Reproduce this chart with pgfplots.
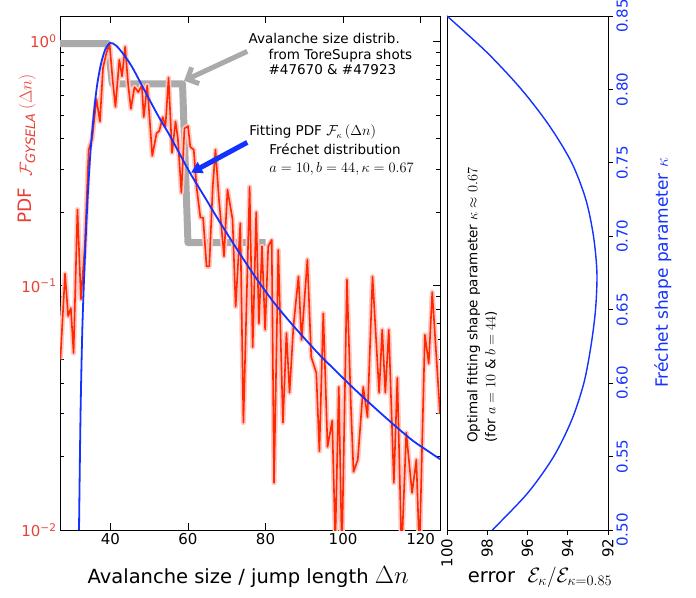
\documentclass[border=0pt]{standalone}
\usepackage{fontspec}
\setmainfont{DejaVu Sans}
\usepackage{pgfplots}
\usepackage{pgfplotstable}
\pgfplotsset{compat=1.18}
\usetikzlibrary{arrows.meta}

\definecolor{datared}{RGB}{255,40,0}
\definecolor{glowred}{RGB}{255,200,195}
\definecolor{labred}{RGB}{232,65,55}
\definecolor{fitblue}{RGB}{20,50,255}
\definecolor{stepgray}{RGB}{170,170,170}

% GYSELA avalanche size PDF (noisy)
\pgfplotstableread{
x y
27.1 0.050
28.3 0.112
29.1 0.075
29.8 0.081
30.5 0.053
31.5 0.205
32.4 0.088
33.4 0.145
34.4 0.36
35.3 0.40
36.4 0.58
37.3 0.47
38.1 0.78
39.0 0.90
39.8 0.97
40.6 0.69
41.3 0.54
42.3 0.84
43.0 0.72
43.8 0.95
44.6 0.66
45.3 0.53
46.2 0.65
47.2 0.62
48.1 0.66
48.6 0.49
49.5 0.66
50.8 0.34
51.9 0.42
52.6 0.43
53.5 0.49
54.2 0.45
55.0 0.71
55.9 0.35
56.8 0.47
57.4 0.40
58.3 0.24
59.1 0.44
60.0 0.45
60.6 0.37
61.5 0.36
62.2 0.255
63.2 0.19
63.9 0.19
64.8 0.12
65.5 0.12
66.4 0.255
67.1 0.36
68.0 0.225
69.3 0.132
70.2 0.247
71.5 0.187
72.3 0.082
73.5 0.18
74.3 0.0275
75.9 0.254
76.7 0.056
77.6 0.20
78.3 0.070
79.1 0.145
79.9 0.066
80.7 0.145
81.6 0.154
82.2 0.0156
83.3 0.14
84.5 0.0275
85.4 0.064
86.2 0.0365
87.2 0.068
88.5 0.109
89.3 0.060
90.8 0.128
91.8 0.051
93.1 0.044
93.9 0.021
94.9 0.077
96.0 0.0219
97.2 0.028
98.0 0.009
98.9 0.0385
99.7 0.008
101.0 0.106
102.0 0.033
102.7 0.0173
103.8 0.0194
105.2 0.0385
106.3 0.029
107.6 0.109
109.3 0.0365
110.1 0.066
110.9 0.0365
111.8 0.066
113.1 0.0156
114.0 0.042
115.1 0.008
116.3 0.025
117.8 0.0142
118.9 0.0194
119.7 0.008
121.1 0.063
122.1 0.048
123.0 0.094
124.5 0.040
125.0 0.030
}\gysela

% Frechet fit
\pgfplotstableread{
x y
31.9 0.01
32.3 0.03
32.8 0.07
33.5 0.14
34.2 0.24
34.9 0.36
35.7 0.50
36.5 0.65
37.5 0.80
38.6 0.92
39.9 0.985
41.5 0.96
43.5 0.88
45.5 0.79
47.5 0.69
50.0 0.58
52.5 0.49
55.0 0.42
57.5 0.355
60.5 0.29
64.0 0.235
67.5 0.19
71.0 0.155
74.5 0.127
78.0 0.105
82.0 0.086
86.0 0.072
90.0 0.061
94.0 0.052
98.0 0.045
102.0 0.039
106.0 0.034
110.0 0.0298
114.0 0.0262
118.0 0.0232
122.0 0.021
125.0 0.0195
}\frechet

% error vs kappa
\pgfplotstableread{
err kappa
97.75 0.500
96.0 0.525
94.7 0.550
93.8 0.575
93.2 0.600
92.85 0.625
92.62 0.650
92.55 0.675
92.72 0.700
93.1 0.725
93.8 0.750
94.9 0.775
96.3 0.800
98.0 0.825
100.0 0.850
}\errk

\begin{document}
\begin{tikzpicture}
\useasboundingbox (-60pt,-67pt) rectangle (636pt,530pt);
\pgfplotsset{
  every axis/.append style={
    scale only axis, height=514pt,
    axis line style={line width=0.9pt},
    every tick/.style={black, line width=0.8pt},
    tick label style={font=\fontsize{15}{18}\selectfont},
    /pgf/number format/assume math mode=true,
  },
}
\begin{axis}[
  at={(0pt,0pt)}, anchor=south west, width=380pt,
  xmin=27, xmax=125, ymode=log, ymin=0.01, ymax=1.27,
  xtick={40,60,80,100,120},
  ytick={0.01,0.1,1},
  yticklabels={10\textsuperscript{−2},10\textsuperscript{−1},10\textsuperscript{0}},
  minor ytick={0.02,0.03,0.04,0.05,0.06,0.07,0.08,0.09,0.2,0.3,0.4,0.5,0.6,0.7,0.8,0.9},
  tick align=inside,
  major tick length=7pt, minor tick length=4pt,
  yticklabel style={text=labred},
  xlabel={Avalanche size / jump length {\fontsize{23}{26}\selectfont$\Delta n$}},
  ylabel={PDF\ \ $\mathcal{F}_{\mathit{GYSELA}}\,(\Delta n)$},
  every axis x label/.style={at={(axis description cs:0.495,-0.0914)}, anchor=center,
    font=\fontsize{19.5}{22}\selectfont},
  every axis y label/.style={at={(axis description cs:-0.087,0.741)}, rotate=90, anchor=center,
    text=labred, font=\fontsize{18.5}{22}\selectfont},
]
\addplot[stepgray, line width=7pt, line join=round] coordinates {
  (27,0.98) (39.3,0.98) (40.5,0.67) (58.6,0.67) (60,0.15) (80,0.15)
};
\addplot[glowred, line width=5pt, line join=round] table[x=x, y=y] {\gysela};
\addplot[datared, line width=1.6pt, line join=round] table[x=x, y=y] {\gysela};
\addplot[fitblue, line width=1.8pt, smooth] table[x=x, y=y] {\frechet};

\draw[stepgray, line width=5pt, -{Straight Barb[length=9pt, width=18pt]}]
  (axis cs:75.3,0.91) -- (axis cs:59.0,0.69);
\draw[fitblue, line width=5pt, -{Triangle[length=11pt, width=12pt]}]
  (axis cs:75.3,0.386) -- (axis cs:60.8,0.29);

\node[anchor=north west, align=left, inner sep=0pt, font=\fontsize{13.5}{15.5}\selectfont]
  at (axis cs:75.6,1.08)
  {Avalanche size distrib.\\\hspace*{20pt}from ToreSupra shots\\\hspace*{20pt}\#47670 \& \#47923};
\node[anchor=north west, align=left, inner sep=0pt, font=\fontsize{13.5}{18.5}\selectfont]
  at (axis cs:75.8,0.455)
  {Fitting PDF $\mathcal{F}_\kappa\,(\Delta n)$\\\hspace*{20pt}Fréchet distribution\\\hspace*{20pt}$a=10, b=44, \kappa=0.67$};
\end{axis}

\begin{axis}[
  at={(387pt,0pt)}, anchor=south west, width=161pt,
  x dir=reverse, xmin=92, xmax=100, ymin=0.5, ymax=0.85,
  xtick={92,94,96,98,100},
  ytick={0.50,0.55,0.60,0.65,0.70,0.75,0.80,0.85},
  tick align=outside, xtick pos=bottom, ytick pos=right,
  major tick length=5pt,
  xticklabel style={rotate=90, anchor=east},
  yticklabel style={rotate=90, anchor=north, text=fitblue,
    /pgf/number format/.cd, fixed, fixed zerofill, precision=2},
  xlabel={error\ \ {\fontsize{22}{25}\selectfont$\mathcal{E}_\kappa/\mathcal{E}_{\kappa=0.85}$}},
  ylabel={Fréchet shape parameter $\kappa$},
  every axis x label/.style={at={(axis description cs:0.578,-0.0914)}, anchor=center,
    font=\fontsize{19.5}{22}\selectfont},
  every axis y label/.style={at={(axis description cs:1.34,0.5)}, rotate=90, anchor=center,
    text=fitblue, font=\fontsize{17}{20}\selectfont},
]
\addplot[fitblue, line width=1.4pt, smooth] table[x=err, y=kappa] {\errk};
\end{axis}

\node[rotate=90, anchor=north west, align=left, inner sep=0pt, font=\fontsize{13.5}{18}\selectfont]
  at (407pt,87pt)
  {Optimal fitting shape parameter $\kappa\approx0.67$\\(for $a=10$ \& $b=44$)};
\end{tikzpicture}
\end{document}
